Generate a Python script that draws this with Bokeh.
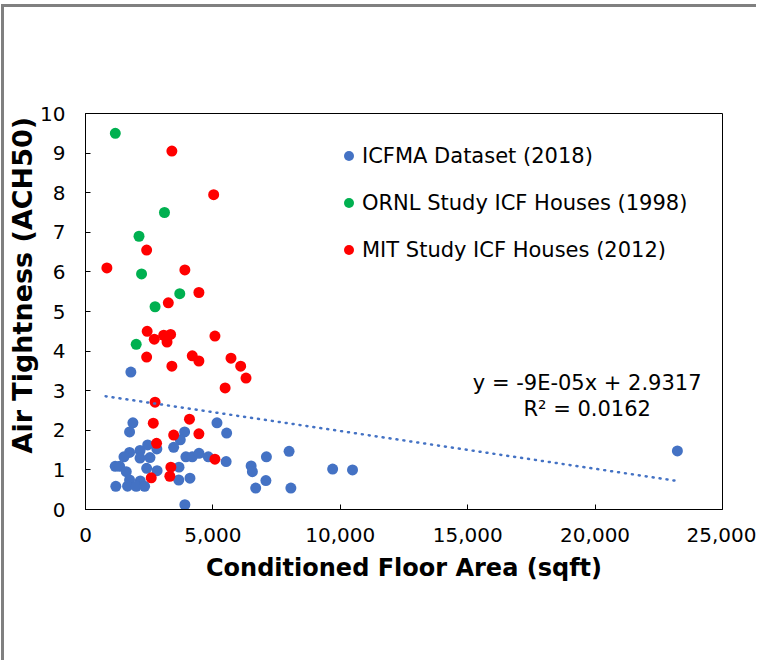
from bokeh.plotting import figure
from bokeh.models import Range1d, FixedTicker, Legend, LegendItem, Label, Title
from bokeh.embed import file_html
from bokeh.resources import INLINE

# ---- data ----
icfma_x = [1780, 1860, 1730, 5160, 5540, 3890, 3720, 3460, 2440, 2800,
           2140, 1730, 1510, 2140, 2530, 3940, 4190, 4455, 4820, 5520,
           1166, 1340, 1600, 2400, 2810, 3670, 1730, 2150, 1190, 1650,
           1990, 2320, 3660, 4100, 3900, 7990, 7100, 6500, 6550, 9700,
           10480, 7080, 6680, 8060, 23230]
icfma_y = [3.47, 2.19, 1.96, 2.19, 1.93, 1.96, 1.76, 1.57, 1.63, 1.53,
           1.49, 1.44, 1.33, 1.30, 1.31, 1.33, 1.33, 1.42, 1.33, 1.21,
           1.09, 1.09, 0.955, 1.04, 0.98, 1.07, 0.745, 0.72, 0.586, 0.59,
           0.586, 0.586, 0.745, 0.79, 0.12, 1.47, 1.33, 1.10, 0.955, 1.02,
           1.00, 0.73, 0.54, 0.54, 1.48]

ornl_x = [1170, 3100, 2100, 2200, 3700, 2730, 1990]
ornl_y = [9.5, 7.5, 6.9, 5.95, 5.45, 5.12, 4.17]

mit_x = [3390, 5030, 2400, 840, 3900, 4450, 3250, 2420, 3070, 3340,
         2700, 3200, 5080, 2400, 4190, 4450, 3390, 5710, 6090, 6300,
         5480, 2730, 4080, 2660, 3460, 4450, 2790, 5080, 3350, 3310, 2580]
mit_y = [9.05, 7.95, 6.55, 6.1, 6.05, 5.48, 5.22, 4.5, 4.4, 4.42,
         4.3, 4.23, 4.38, 3.85, 3.88, 3.75, 3.62, 3.82, 3.62, 3.32,
         3.07, 2.71, 2.28, 2.18, 1.88, 1.91, 1.67, 1.27, 1.07, 0.84, 0.80]

trend_x = [790, 23230]
trend_y = [2.86, 0.72]

series_names = ["ICFMA Dataset (2018)", "ORNL Study ICF Houses (1998)", "MIT Study ICF Houses (2012)"]
equation_lines = ["y = -9E-05x + 2.9317", "R\u00b2 = 0.0162"]
x_title = "Conditioned Floor Area (sqft)"
y_title = "Air Tightness (ACH50)"

x_ticks = [0, 5000, 10000, 15000, 20000, 25000]
x_tick_labels = ["0", "5,000", "10,000", "15,000", "20,000", "25,000"]
y_ticks = list(range(0, 11))
y_tick_labels = [str(t) for t in y_ticks]

BLUE = "#4472C4"
GREEN = "#00B050"
RED = "#FF0000"
FONT = "DejaVu Sans"

p = figure(width=755, height=656, output_backend="svg", toolbar_location=None,
           x_range=Range1d(0, 25000), y_range=Range1d(0, 10),
           min_border_left=80, min_border_right=37, min_border_top=106,
           min_border_bottom=154)
p.styles = {"margin-left": "1px", "margin-top": "4px",
            "border-top": "3px solid #808080", "border-left": "3px solid #808080"}

p.xgrid.visible = False
p.ygrid.visible = False
p.outline_line_color = "black"
p.outline_line_width = 1
p.background_fill_color = "white"
p.border_fill_color = "white"

rb = p.scatter(icfma_x, icfma_y, size=11, color=BLUE, line_color=None)
rg = p.scatter(ornl_x, ornl_y, size=11, color=GREEN, line_color=None)
rr = p.scatter(mit_x, mit_y, size=11, color=RED, line_color=None)
p.line(trend_x, trend_y, line_color=BLUE, line_width=2.5, line_dash="1 6", line_cap="round")

for ax in (p.xaxis[0], p.yaxis[0]):
    ax.axis_line_color = "black"
    ax.major_tick_line_color = "black"
    ax.major_tick_in = 5
    ax.major_tick_out = 0
    ax.minor_tick_line_color = None
    ax.major_label_text_font = FONT
    ax.major_label_text_font_size = "20px"
    ax.major_label_text_color = "black"
    ax.axis_label_text_font = FONT
    ax.axis_label_text_font_style = "bold"
    ax.axis_label_text_color = "black"

p.xaxis.ticker = FixedTicker(ticks=x_ticks)
p.xaxis.major_label_overrides = dict(zip(x_ticks, x_tick_labels))
p.yaxis.ticker = FixedTicker(ticks=y_ticks)
p.yaxis.major_label_overrides = dict(zip(y_ticks, y_tick_labels))

p.xaxis.axis_label = x_title
p.xaxis.axis_label_text_font_size = "24px"
p.xaxis.major_label_standoff = 18
p.xaxis.axis_label_standoff = 9

p.yaxis.major_label_standoff = 20

# y-axis title sits above the frame's middle, as in the reference
p.add_layout(Title(text=y_title, align="left", offset=56, standoff=0,
                   text_font=FONT, text_font_size="27px", text_font_style="bold",
                   text_color="black"), "left")

legend = Legend(items=[LegendItem(label=series_names[0], renderers=[rb]),
                       LegendItem(label=series_names[1], renderers=[rg]),
                       LegendItem(label=series_names[2], renderers=[rr])],
                location=(251, 247), orientation="vertical",
                border_line_color=None, background_fill_alpha=0,
                label_text_font=FONT, label_text_font_size="21px",
                label_text_color="black",
                glyph_width=25, glyph_height=25, label_height=25,
                label_standoff=1, spacing=22, padding=0, margin=0)
p.add_layout(legend)

p.add_layout(Label(x=19690, y=3.19, text=equation_lines[0], text_align="center",
                   text_baseline="middle", text_font=FONT, text_font_size="21px",
                   text_color="black"))
p.add_layout(Label(x=19690, y=2.54, text=equation_lines[1], text_align="center",
                   text_baseline="middle", text_font=FONT, text_font_size="21px",
                   text_color="black"))

open("out.html", "w").write(file_html(p, INLINE))
